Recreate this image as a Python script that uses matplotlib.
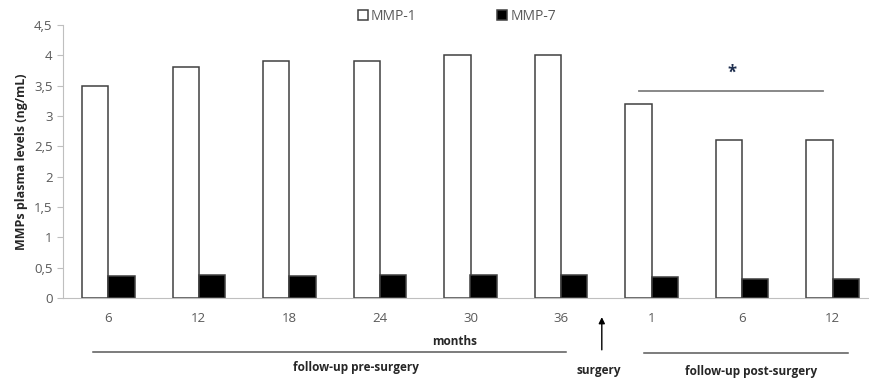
import numpy as np
import matplotlib.pyplot as plt
import matplotlib.transforms as mtransforms

plt.rcParams['font.family'] = ['Open Sans', 'DejaVu Sans']

# data
labels = ['6', '12', '18', '24', '30', '36', '1', '6', '12']
mmp1 = [3.5, 3.8, 3.9, 3.9, 4.0, 4.0, 3.2, 2.6, 2.6]
mmp7 = [0.37, 0.38, 0.37, 0.38, 0.38, 0.38, 0.35, 0.31, 0.31]
yticks = [0, 0.5, 1, 1.5, 2, 2.5, 3, 3.5, 4, 4.5]
ytick_labels = ['0', '0,5', '1', '1,5', '2', '2,5', '3', '3,5', '4', '4,5']

grey_txt = '#595959'
edge = '#404040'

fig = plt.figure(figsize=(8.69, 3.84), dpi=100)
ax = fig.add_axes([63 / 869, 1 - 298 / 384, 815 / 869, 273 / 384])

x = np.arange(len(labels))
w = 0.29
ax.bar(x - w / 2, mmp1, w, color='white', edgecolor=edge, linewidth=1.1, label='MMP-1')
ax.bar(x + w / 2, mmp7, w, color='black', edgecolor=edge, linewidth=1.1, label='MMP-7')

ax.set_xlim(-0.5, len(labels) - 0.5)
ax.set_ylim(0, 4.5)
ax.set_yticks(yticks)
ax.set_yticklabels(ytick_labels)
ax.set_xticks(x)
ax.set_xticklabels(labels)
ax.tick_params(axis='x', length=0, pad=10, labelsize=9.5, labelcolor=grey_txt)
ax.tick_params(axis='y', length=4, color='#bfbfbf', labelsize=9.5, labelcolor=grey_txt)
for s in ['top', 'right']:
    ax.spines[s].set_visible(False)
for s in ['left', 'bottom']:
    ax.spines[s].set_color('#bfbfbf')
ax.set_ylabel('MMPs plasma levels (ng/mL)', fontsize=9, fontweight='bold', color='#262626', labelpad=4)

# significance bar
ax.plot([5.86, 7.89], [3.42, 3.42], color='#7f7f7f', lw=1.3)
ax.text(6.89, 3.72, '*', ha='center', va='center', fontsize=12, fontweight='bold', color='#1f2f4f')

# annotations below the axis
trans = mtransforms.blended_transform_factory(ax.transData, ax.transAxes)
ax.plot([-0.17, 5.06], [-0.198, -0.198], color='#595959', lw=1.1, transform=trans, clip_on=False)
ax.plot([5.92, 8.17], [-0.2, -0.2], color='#595959', lw=1.1, transform=trans, clip_on=False)
ax.annotate('', xy=(5.45, -0.06), xytext=(5.45, -0.2), xycoords=trans, textcoords=trans,
            arrowprops=dict(arrowstyle='-|>', color='black', lw=1.0, mutation_scale=9))
ax.text(3.82, -0.161, 'months', transform=trans, ha='center', va='center',
        fontsize=8.5, fontweight='bold', color='#262626')
ax.text(2.73, -0.256, 'follow-up pre-surgery', transform=trans, ha='center', va='center',
        fontsize=8.5, fontweight='bold', color='#262626')
ax.text(5.42, -0.267, 'surgery', transform=trans, ha='center', va='center',
        fontsize=8.5, fontweight='bold', color='#262626')
ax.text(7.10, -0.271, 'follow-up post-surgery', transform=trans, ha='center', va='center',
        fontsize=8.5, fontweight='bold', color='#262626')

fig.legend(loc='center', bbox_to_anchor=(0.526, 0.958), ncol=2, frameon=False,
           fontsize=10, labelcolor=grey_txt, handlelength=0.7, handleheight=0.7,
           handletextpad=0.25, columnspacing=5.8)

fig.savefig('out.png', dpi=100)
